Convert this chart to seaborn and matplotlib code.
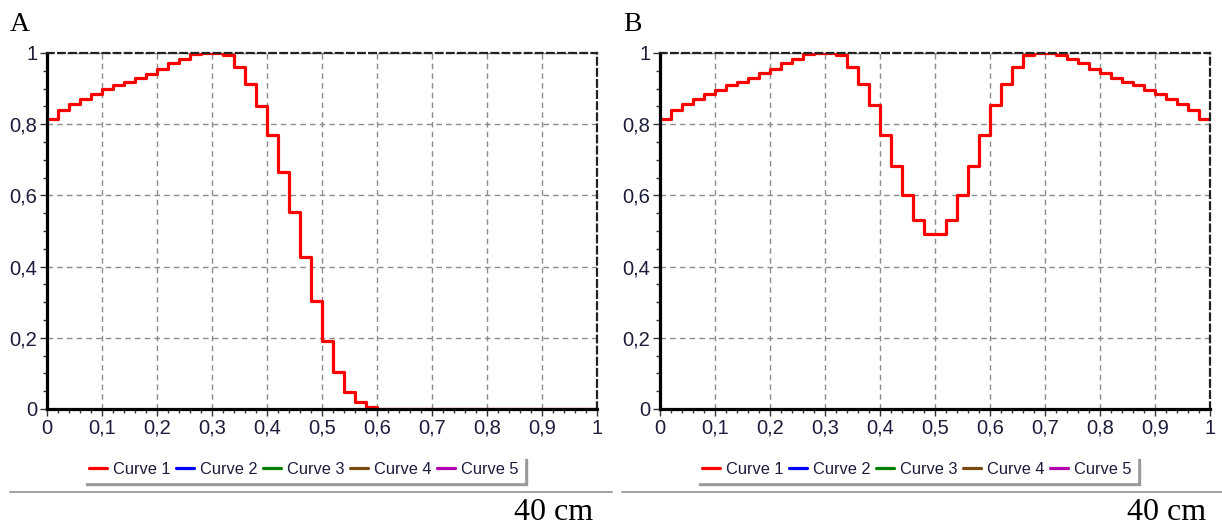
import numpy as np
import pandas as pd
import seaborn as sns
import matplotlib.pyplot as plt
from matplotlib.lines import Line2D
from matplotlib.ticker import MultipleLocator, FuncFormatter

# step values, one per 0.02-wide bin from 0 to 1
profile_a = [0.814, 0.840, 0.856, 0.872, 0.884, 0.898, 0.910, 0.919, 0.930, 0.942,
             0.955, 0.972, 0.983, 0.997, 1.000, 1.000, 0.995, 0.960, 0.912, 0.852,
             0.770, 0.665, 0.552, 0.428, 0.304, 0.192, 0.103, 0.047, 0.019, 0.005,
             0.0, 0.0, 0.0, 0.0, 0.0, 0.0, 0.0, 0.0, 0.0, 0.0,
             0.0, 0.0, 0.0, 0.0, 0.0, 0.0, 0.0, 0.0, 0.0, 0.0]
profile_b = [0.815, 0.839, 0.858, 0.872, 0.886, 0.897, 0.911, 0.918, 0.931, 0.944,
             0.956, 0.973, 0.984, 0.998, 1.000, 1.000, 0.995, 0.961, 0.914, 0.853,
             0.771, 0.682, 0.602, 0.531, 0.492, 0.492, 0.531, 0.602, 0.682, 0.771,
             0.853, 0.914, 0.960, 0.995, 1.000, 1.000, 0.995, 0.984, 0.973, 0.956,
             0.944, 0.931, 0.918, 0.911, 0.897, 0.886, 0.872, 0.858, 0.839, 0.815]
bin_edges = np.round(np.arange(0, 1.0001, 0.02), 2)

curve_names = ['Curve 1', 'Curve 2', 'Curve 3', 'Curve 4', 'Curve 5']
curve_colors = ['#ff0000', '#0000ff', '#008000', '#7b4a12', '#b000b0']
panel_labels = ['A', 'B']
scale_text = '40 cm'

sns.set_style('white')
plt.rcParams['font.family'] = ['Liberation Sans', 'DejaVu Sans']

W, H = 1222, 527
fig = plt.figure(figsize=(W / 100, H / 100), dpi=100)

ax_lefts = [47, 660]
ax_w, ax_top, ax_bot = 550, 53, 409
tick_col = '#1c1c3c'


def comma(v, pos):
    return ('%g' % round(v, 2)).replace('.', ',')


for i, vals in enumerate([profile_a, profile_b]):
    left = ax_lefts[i]
    ax = fig.add_axes([left / W, 1 - ax_bot / H, ax_w / W, (ax_bot - ax_top) / H])
    df = pd.DataFrame({'x': bin_edges, 'y': list(vals) + [vals[-1]]})
    sns.lineplot(data=df, x='x', y='y', ax=ax, color=curve_colors[0], lw=2.3,
                 drawstyle='steps-post', estimator=None, legend=False, zorder=2)
    ax.set_xlim(0, 1)
    ax.set_ylim(0, 1)
    ax.set_xlabel('')
    ax.set_ylabel('')
    ax.xaxis.set_major_locator(MultipleLocator(0.1))
    ax.xaxis.set_minor_locator(MultipleLocator(0.02))
    ax.yaxis.set_major_locator(MultipleLocator(0.2))
    ax.yaxis.set_minor_locator(MultipleLocator(0.05))
    ax.xaxis.set_major_formatter(FuncFormatter(comma))
    ax.yaxis.set_major_formatter(FuncFormatter(comma))
    ax.grid(True, which='major', color='#8c8c8c', ls=(0, (4, 3)), lw=1.0, zorder=1)
    ax.tick_params(which='major', direction='out', length=5, width=1, color='#333333',
                   labelsize=14.5, labelcolor=tick_col, pad=2,
                   bottom=True, left=True)
    ax.tick_params(which='minor', direction='out', length=3, width=1, color='#333333',
                   bottom=True, left=True)
    for s in ['left', 'bottom']:
        ax.spines[s].set_color('black')
        ax.spines[s].set_linewidth(2.3)
        ax.spines[s].set_zorder(3)
    for s in ['top', 'right']:
        ax.spines[s].set_color('#222222')
        ax.spines[s].set_linewidth(1.6)
        ax.spines[s].set_linestyle((0, (3, 2)))
        ax.spines[s].set_zorder(3)

    handles = [Line2D([], [], color=c, lw=2.3) for c in curve_colors]
    leg_cx = (left + 257) / W
    leg = fig.legend(handles, curve_names, loc='center', bbox_to_anchor=(leg_cx, 1 - 469 / H),
                     ncol=5, fontsize=11.8, frameon=True, fancybox=False,
                     handlelength=1.1, handletextpad=0.35, columnspacing=0.35,
                     borderpad=0.35, edgecolor='white', facecolor='white',
                     shadow={'color': '#999999', 'alpha': 1})
    for t in leg.get_texts():
        t.set_color(tick_col)

    # separator line and scale text under each panel
    x0 = 10 if i == 0 else 622
    x1 = 612 if i == 0 else 1222
    fig.add_artist(Line2D([x0 / W, x1 / W], [1 - 492 / H, 1 - 492 / H],
                          color='#9a9a9a', lw=1.3))
    fig.text((left + 546) / W, 1 - 520 / H, scale_text, ha='right', va='baseline',
             fontsize=23, family=['Liberation Serif', 'DejaVu Serif'], color='black')
    fig.text((left - 37) / W, 1 - 31 / H, panel_labels[i], ha='left', va='baseline',
             fontsize=20, family=['Liberation Serif', 'DejaVu Serif'], color='black')

fig.savefig('out.png', dpi=100)
